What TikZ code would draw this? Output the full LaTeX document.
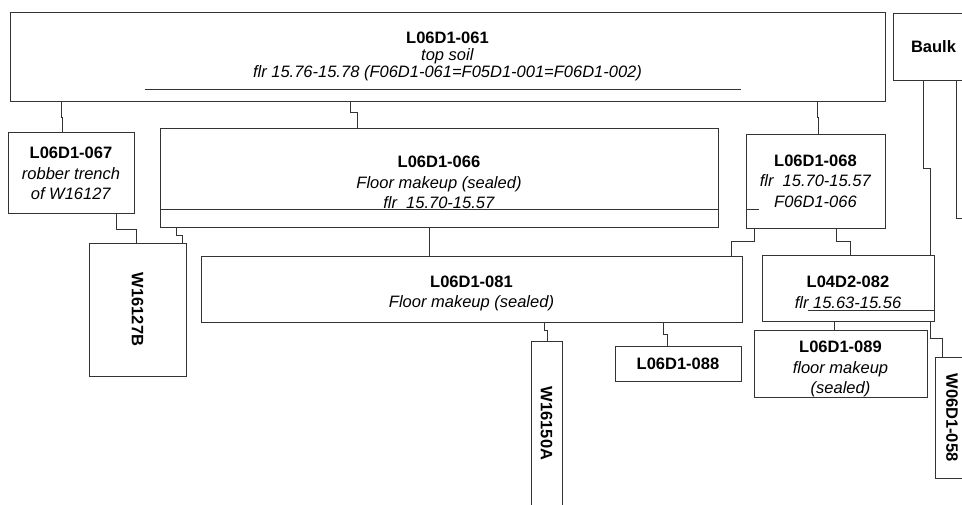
\documentclass[tikz,border=0pt]{standalone}
\usepackage{fontspec}
\setmainfont{Liberation Sans}
\usepackage{tikz}

\begin{document}
\begin{tikzpicture}[x=1pt,y=-1pt,
  unit/.style={draw=black!80, line width=1pt, inner sep=0pt, align=center,
    font=\fontsize{16.5}{20.5}\selectfont},
  link/.style={black!80, line width=1pt}]
\useasboundingbox (0,0) rectangle (962,504);
\clip (0,0) rectangle (962,504);
% units
\node[unit, font=\fontsize{16.5}{17.5}\selectfont, minimum width=875, minimum height=89] (L061) at (447.5,56.5)
  {\textbf{L06D1-061}\\[-0.5pt]\textit{top soil}\\[-0.5pt]\textit{flr 15.76-15.78 (F06D1-061=F05D1-001=F06D1-002)}};
\node[unit, minimum width=81, minimum height=67] (baulk) at (933.5,46.5) {\textbf{Baulk}};
\node[unit, minimum width=126, minimum height=81] (L067) at (71,172.5)
  {\rule{0pt}{14pt}\textbf{L06D1-067}\\\textit{robber trench}\\\textit{of W16127}};
\node[unit, minimum width=558, minimum height=99] (L066) at (439,177.5)
  {\rule{0pt}{22pt}\textbf{L06D1-066}\\\textit{Floor makeup (sealed)}\\\textit{flr~~15.70-15.57}};
\node[unit, minimum width=139, minimum height=94] (L068) at (815.5,181)
  {\textbf{L06D1-068}\\\textit{flr~~15.70-15.57}\\\textit{F06D1-066}};
\node[unit, minimum width=541, minimum height=66] (L081) at (471.5,289)
  {\rule{0pt}{20pt}\textbf{L06D1-081}\\\textit{Floor makeup (sealed)}};
\node[unit, minimum width=172, minimum height=66] (L082) at (848,288)
  {\rule{0pt}{20pt}\textbf{L04D2-082}\\\textit{flr 15.63-15.56}};
\node[unit, minimum width=173, minimum height=66] (L089) at (840.5,364)
  {\rule{0pt}{22pt}\textbf{L06D1-089}\\\textit{floor makeup}\\\textit{(sealed)}};
\node[unit, minimum width=126, minimum height=35] (L088) at (678,363.5) {\textbf{L06D1-088}};
\node[unit, minimum width=97, minimum height=133] (W127) at (137.5,309.5) {\rotatebox{-90}{\textbf{W16127B}}};
\node[unit, minimum width=31, minimum height=165] (W150) at (546.5,423.5) {\rotatebox{-90}{\textbf{W16150A}}};
\node[unit, minimum width=34, minimum height=121] (W058) at (952,417.5) {\rotatebox{-90}{\textbf{W06D1-058}}};
\coordinate (baulkout) at (975,218);
% rules inside the units
\draw[link] ([xshift=135pt,yshift=12pt]L061.south west) -- ([xshift=-145pt,yshift=12pt]L061.south east);
\draw[link] ([yshift=18pt]L066.south west) -- ([yshift=18pt]L066.south east);
\draw[link] ([yshift=19pt]L068.south west) -- ([xshift=13pt,yshift=19pt]L068.south west);
\draw[link] ([xshift=46pt,yshift=11pt]L082.south west) -- ([yshift=11pt]L082.south east);
% links
\draw[link] ([xshift=52pt]L061.south west) -- ++(0,16) -| ([xshift=55pt]L067.north west);
\draw[link] ([xshift=341pt]L061.south west) -- ++(0,11) -| ([xshift=198pt]L066.north west);
\draw[link] ([xshift=808pt]L061.south west) -- ++(0,16) -| ([xshift=73pt]L068.north west);
\draw[link] ([xshift=31pt]baulk.south west) -- ++(0,88) -| ([xshift=169pt]L082.north west);
\draw[link] ([xshift=64pt]baulk.south west) |- (baulkout);
\draw[link] ([xshift=109pt]L067.south west) -- ++(0,16) -| ([xshift=48pt]W127.north west);
\draw[link] ([xshift=17pt]L066.south west) -- ++(0,8) -| ([xshift=94pt]W127.north west);
\draw[link] ([xshift=270pt]L066.south west) -- ([xshift=229pt]L081.north west);
\draw[link] ([xshift=9pt]L068.south west) -- ++(0,13) -| ([xshift=531pt]L081.north west);
\draw[link] ([xshift=91pt]L068.south west) -- ++(0,13) -| ([xshift=89pt]L082.north west);
\draw[link] ([xshift=344pt]L081.south west) -- ++(0,8) -| ([xshift=17pt]W150.north west);
\draw[link] ([xshift=463pt]L081.south west) -- ++(0,12) -| ([xshift=53pt]L088.north west);
\draw[link] ([xshift=73pt]L082.south west) -- ([xshift=81pt]L089.north west);
\draw[link] ([xshift=169pt]L082.south west) -- ++(0,17) -| ([xshift=8pt]W058.north west);
\end{tikzpicture}
\end{document}
